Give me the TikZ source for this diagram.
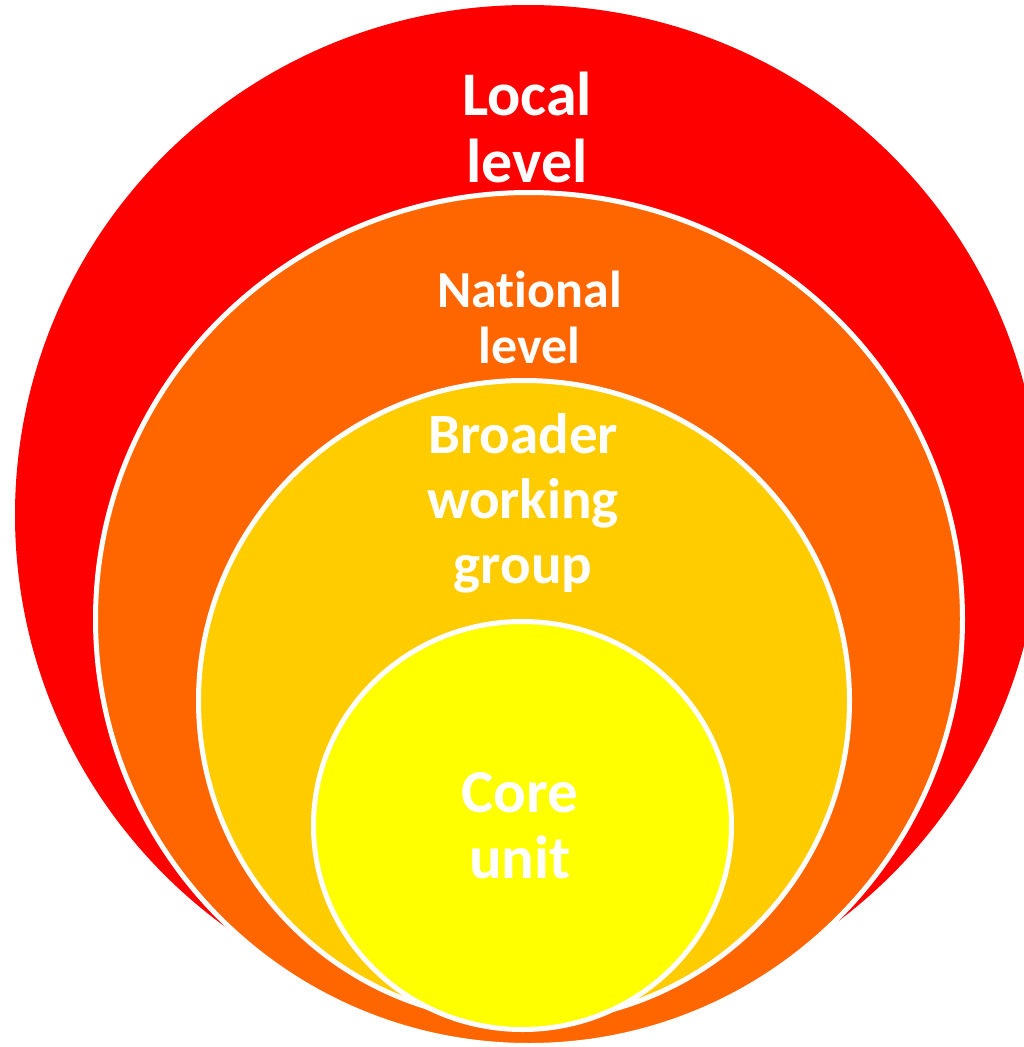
\documentclass[tikz,border=0pt]{standalone}
\usepackage{fontspec}
\setmainfont{Carlito}[Ligatures={NoCommon}]
\definecolor{cRed}{HTML}{FE0000}
\definecolor{cOrange}{HTML}{FF6600}
\definecolor{cGold}{HTML}{FFCC00}
\definecolor{cYellow}{HTML}{FFFF00}
\begin{document}
\begin{tikzpicture}[x=1pt,y=-1pt,
  ring/.style={draw=white,line width=5pt},
  lbl/.style={text=white,align=center,anchor=base,inner sep=0pt}]
\useasboundingbox (0,0) rectangle (1024,1047);
\clip (0,0) rectangle (1024,1047);
\fill[cRed] (528,515) ellipse [x radius=513, y radius=510];
\filldraw[ring, fill=cOrange] (529,619) ellipse [x radius=433.5, y radius=426.5];
\filldraw[ring, fill=cGold] (524,701) ellipse [x radius=325.5, y radius=320.5];
\filldraw[ring, fill=cYellow] (522.5,825.5) ellipse [x radius=209, y radius=204];
\node[lbl, font=\fontsize{62}{67}\selectfont\bfseries] (local) at (527,182) {Local\\level};
\node[lbl, font=\fontsize{52}{56}\selectfont\bfseries] (national) at (529.5,363) {National\\level};
\node[lbl, font=\fontsize{57}{65}\selectfont\bfseries] (broader) at (523,583) {Broader\\working\\group};
\node[lbl, font=\fontsize{61}{66}\selectfont\bfseries] (core) at (520,878) {Core\\unit};
\end{tikzpicture}
\end{document}
